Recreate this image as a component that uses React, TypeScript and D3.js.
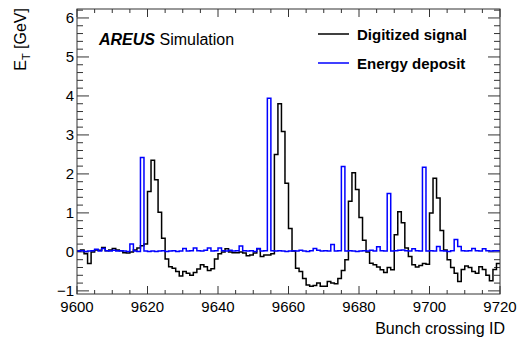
import React from "react";
import * as d3 from "d3";

const bcStart = 9600;
const bcEnd = 9720;

const digitizedSignal: number[] = [
  0.02, 0.05, -0.05, -0.3, 0.0, 0.05, 0.04, 0.11, 0.03, 0.05,
  0.09, 0.05, 0.03, -0.02, -0.03, 0.0, 0.05, 0.1, 0.16, 0.2,
  1.55, 2.35, 1.85, 1.02, 0.35, -0.18, -0.38, -0.42, -0.5, -0.62,
  -0.5, -0.55, -0.6, -0.53, -0.44, -0.33, -0.38, -0.48, -0.43, -0.18,
  -0.05, 0.0, 0.08, 0.0, -0.02, -0.02, 0.0, -0.03, -0.1, -0.08,
  -0.03, 0.08, -0.12, -0.08, -0.08, -0.05, 2.5, 3.8, 3.09, 1.76,
  0.6, 0.02, -0.42, -0.5, -0.68, -0.85, -0.88, -0.86, -0.8, -0.88,
  -0.88, -0.76, -0.8, -0.82, -0.68, -0.48, -0.2, 1.3, 2.03, 1.6,
  0.88, 0.3, 0.0, -0.29, -0.33, -0.39, -0.46, -0.53, -0.4, -0.46,
  0.44, 1.03, 0.75, 0.1, -0.12, -0.33, -0.39, -0.35, -0.3, -0.32,
  1.0, 1.89, 1.38, 0.55, 0.05, -0.2, -0.4, -0.55, -0.76, -0.45,
  -0.36, -0.4, -0.5, -0.55, -0.38, -0.45, -0.6, -0.74, -0.45, -0.3,
];

const energyDeposit: number[] = [
  0.02, 0.03, 0.01, 0.02, 0.03, 0.07, 0.02, 0.09, 0.03, 0.02,
  0.04, 0.02, 0.03, 0.02, 0.01, 0.2, 0.02, 0.01, 2.42, 0.02,
  0.01, 0.02, 0.01, 0.02, 0.03, 0.01, 0.02, 0.03, 0.01, 0.02,
  0.09, 0.02, 0.03, 0.1, 0.03, 0.02, 0.04, 0.1, 0.02, 0.03,
  0.1, 0.03, 0.02, 0.04, 0.02, 0.03, 0.15, 0.03, 0.02, 0.03,
  0.01, 0.09, 0.02, 0.03, 3.94, 0.03, 0.02, 0.03, 0.02, 0.01,
  0.02, 0.03, 0.02, 0.04, 0.02, 0.01, 0.03, 0.09, 0.04, 0.02,
  0.03, 0.02, 0.19, 0.02, 0.03, 2.19, 0.02, 0.03, 0.02, 0.01,
  0.02, 0.03, 0.02, 0.04, 0.02, 0.13, 0.03, 0.02, 1.5, 0.02,
  0.03, 0.04, 0.05, 0.03, 0.02, 0.08, 0.03, 0.02, 2.17, 0.02,
  0.03, 0.02, 0.14, 0.03, 0.02, 0.01, 0.03, 0.32, 0.14, 0.03,
  0.02, 0.03, 0.09, 0.03, 0.02, 0.08, 0.03, 0.02, 0.03, 0.03,
];

const xTickValues = [9600, 9620, 9640, 9660, 9680, 9700, 9720];
const yTickValues = [-1, 0, 1, 2, 3, 4, 5, 6];
const legendLabels = ["Digitized signal", "Energy deposit"];

const W = 519;
const H = 343;
const left = 77;
const right = 500;
const top = 9;
const bottom = 294;
const FONT = "'Liberation Sans', Arial, Helvetica, sans-serif";

export default function App() {
  const x = d3.scaleLinear().domain([bcStart, bcEnd]).range([left, right]);
  const y = d3.scaleLinear().domain([-1.08, 6.23]).range([bottom, top]);

  const stepPath = (vals: number[]) => {
    const pts: [number, number][] = [];
    vals.forEach((v, i) => {
      pts.push([x(bcStart + i), y(v)]);
      pts.push([x(bcStart + i + 1), y(v)]);
    });
    return d3.line()(pts) || "";
  };

  const xMinor = d3.range(bcStart, bcEnd + 0.01, 5).filter((v) => v % 20 !== 0);
  const yMinor = d3
    .range(-1, 6.21, 0.2)
    .map((v) => Math.round(v * 10) / 10)
    .filter((v) => Math.abs(v - Math.round(v)) > 1e-6);

  const axisColor = "#333";
  return (
    <svg
      width={W}
      height={H}
      style={{ position: "fixed", left: 0, top: 0, display: "block", background: "#fff" }}
    >
      <defs>
        <clipPath id="frame">
          <rect x={left} y={top} width={right - left} height={bottom - top} />
        </clipPath>
      </defs>
      <rect x={0} y={0} width={W} height={H} fill="#fff" />

      {/* ticks */}
      <g stroke={axisColor} strokeWidth={1}>
        {xTickValues.map((v) => (
          <g key={"xt" + v}>
            <line x1={x(v)} x2={x(v)} y1={bottom} y2={bottom - 8} />
            <line x1={x(v)} x2={x(v)} y1={top} y2={top + 8} />
          </g>
        ))}
        {xMinor.map((v) => (
          <g key={"xm" + v}>
            <line x1={x(v)} x2={x(v)} y1={bottom} y2={bottom - 4} />
            <line x1={x(v)} x2={x(v)} y1={top} y2={top + 4} />
          </g>
        ))}
        {yTickValues.map((v) => (
          <g key={"yt" + v}>
            <line x1={left} x2={left + 12} y1={y(v)} y2={y(v)} />
            <line x1={right} x2={right - 12} y1={y(v)} y2={y(v)} />
          </g>
        ))}
        {yMinor.map((v) => (
          <g key={"ym" + v}>
            <line x1={left} x2={left + 6} y1={y(v)} y2={y(v)} />
            <line x1={right} x2={right - 6} y1={y(v)} y2={y(v)} />
          </g>
        ))}
      </g>

      {/* histograms */}
      <g clipPath="url(#frame)" fill="none" strokeLinejoin="miter">
        <path d={stepPath(digitizedSignal)} stroke="#000" strokeWidth={1.5} />
        <path d={stepPath(energyDeposit)} stroke="#0000ff" strokeWidth={1.5} />
      </g>

      {/* frame */}
      <rect
        x={left}
        y={top}
        width={right - left}
        height={bottom - top}
        fill="none"
        stroke={axisColor}
        strokeWidth={1}
      />

      {/* tick labels */}
      <g fontFamily={FONT} fontSize={15} fill="#000">
        {xTickValues.map((v) => (
          <text key={"xl" + v} x={x(v)} y={bottom + 18} textAnchor="middle">
            {v}
          </text>
        ))}
        {yTickValues.map((v) => (
          <text key={"yl" + v} x={left - 3} y={y(v) + 5.5} textAnchor="end">
            {v < 0 ? "\u2212" + Math.abs(v) : v}
          </text>
        ))}
      </g>

      {/* axis titles */}
      <text
        x={right + 5}
        y={334}
        textAnchor="end"
        fontFamily={FONT}
        fontSize={16}
        fill="#000"
      >
        Bunch crossing ID
      </text>
      <text
        transform={`translate(26, 8) rotate(-90)`}
        textAnchor="end"
        fontFamily={FONT}
        fontSize={16}
        fill="#000"
      >
        E<tspan fontSize={11} dy={4}>T</tspan>
        <tspan dy={-4}> [GeV]</tspan>
      </text>

      {/* label */}
      <text x={99} y={45} fontFamily={FONT} fontSize={16} fill="#000">
        <tspan fontWeight="bold" fontStyle="italic">AREUS</tspan>
        <tspan> Simulation</tspan>
      </text>

      {/* legend */}
      <g fontFamily={FONT} fontSize={15} fontWeight="bold" fill="#000">
        <line x1={318} x2={349} y1={34} y2={34} stroke="#000" strokeWidth={1.5} />
        <text x={357} y={40}>{legendLabels[0]}</text>
        <line x1={318} x2={349} y1={63} y2={63} stroke="#0000ff" strokeWidth={1.5} />
        <text x={357} y={69}>{legendLabels[1]}</text>
      </g>
    </svg>
  );
}
